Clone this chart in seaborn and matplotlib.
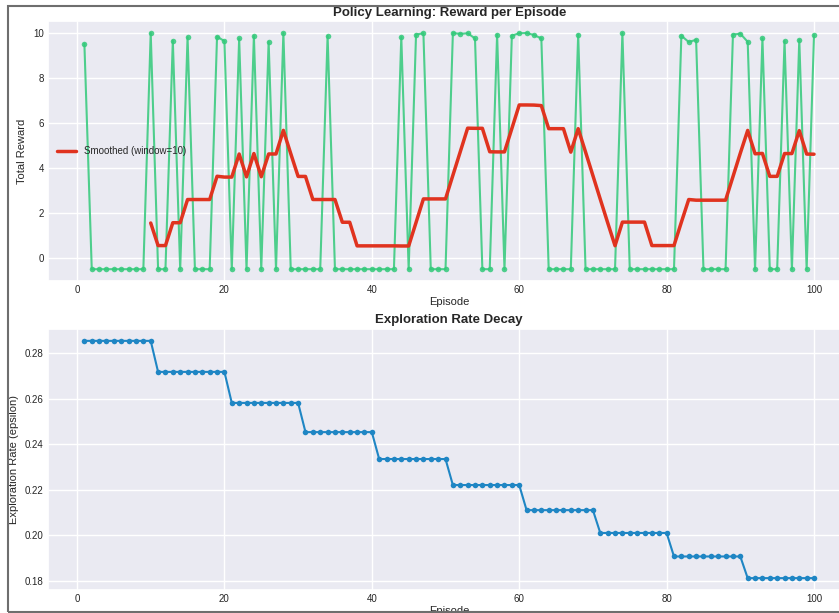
import numpy as np
import pandas as pd
import matplotlib
matplotlib.use("Agg")
import matplotlib.pyplot as plt
import seaborn as sns
from matplotlib.patches import Rectangle

episodes = list(range(1, 101))

rewards = [
    9.53, -0.5, -0.5, -0.5, -0.5, -0.5, -0.5, -0.5, -0.5, 10.0,
    -0.5, -0.5, 9.66, -0.5, 9.81, -0.5, -0.5, -0.5, 9.84, 9.64,
    -0.5, 9.76, -0.5, 9.87, -0.5, 9.61, -0.5, 10.0, -0.5, -0.5,
    -0.5, -0.5, -0.5, 9.87, -0.5, -0.5, -0.5, -0.5, -0.5, -0.5,
    -0.5, -0.5, -0.5, 9.82, -0.5, 9.93, 9.99, -0.5, -0.5, -0.5,
    10.0, 9.96, 9.99, 9.76, -0.5, -0.5, 9.93, -0.5, 9.88, 9.99,
    10.0, 9.91, 9.76, -0.5, -0.5, -0.5, -0.5, 9.93, -0.5, -0.5,
    -0.5, -0.5, -0.5, 10.0, -0.5, -0.5, -0.5, -0.5, -0.5, -0.5,
    -0.5, 9.88, 9.6, 9.7, -0.5, -0.5, -0.5, -0.5, 9.93, 9.97,
    9.61, -0.5, 9.76, -0.5, -0.5, 9.64, -0.5, 9.7, -0.5, 9.91,
]

epsilon = [
    0.2853, 0.2853, 0.2853, 0.2853, 0.2853, 0.2853, 0.2853, 0.2853, 0.2853, 0.2853,
    0.2717, 0.2717, 0.2717, 0.2717, 0.2717, 0.2717, 0.2717, 0.2717, 0.2717, 0.2717,
    0.2581, 0.2581, 0.2581, 0.2581, 0.2581, 0.2581, 0.2581, 0.2581, 0.2581, 0.2581,
    0.2453, 0.2453, 0.2453, 0.2453, 0.2453, 0.2453, 0.2453, 0.2453, 0.2453, 0.2453,
    0.2335, 0.2335, 0.2335, 0.2335, 0.2335, 0.2335, 0.2335, 0.2335, 0.2335, 0.2335,
    0.2221, 0.2221, 0.2221, 0.2221, 0.2221, 0.2221, 0.2221, 0.2221, 0.2221, 0.2221,
    0.2111, 0.2111, 0.2111, 0.2111, 0.2111, 0.2111, 0.2111, 0.2111, 0.2111, 0.2111,
    0.2011, 0.2011, 0.2011, 0.2011, 0.2011, 0.2011, 0.2011, 0.2011, 0.2011, 0.2011,
    0.1908, 0.1908, 0.1908, 0.1908, 0.1908, 0.1908, 0.1908, 0.1908, 0.1908, 0.1908,
    0.1813, 0.1813, 0.1813, 0.1813, 0.1813, 0.1813, 0.1813, 0.1813, 0.1813, 0.1813,
]

window = 10

df = pd.DataFrame({"Episode": episodes, "Reward": rewards, "Epsilon": epsilon})
df["Smoothed"] = df["Reward"].rolling(window).mean()

sns.set_theme(style="darkgrid")
plt.rcParams["font.family"] = ["Liberation Sans", "DejaVu Sans"]
plt.rcParams["axes.facecolor"] = "#EAEAF2"

W, H = 839, 613
fig = plt.figure(figsize=(W / 100, H / 100), dpi=100)
fig.patch.set_facecolor("white")

def box(x0, y0, x1, y1):
    return [x0 / W, 1 - y1 / H, (x1 - x0) / W, (y1 - y0) / H]

ax1 = fig.add_axes(box(47.9, 21.2, 850.5, 281.0))
ax2 = fig.add_axes(box(47.9, 329.0, 850.5, 590.0))

sns.lineplot(data=df, x="Episode", y="Reward", ax=ax1, color="#33c97a",
             alpha=0.85, linewidth=1.5, marker="o", markersize=4,
             markeredgewidth=0, label="_nolegend_")
sns.lineplot(data=df.dropna(), x="Episode", y="Smoothed", ax=ax1,
             color="#e0331f", linewidth=2.5, label=f"Smoothed (window={window})")

ax1.set_title("Policy Learning: Reward per Episode", fontsize=9.5,
              fontweight="bold", pad=4)
ax1.set_xlabel("Episode", fontsize=8, labelpad=1)
ax1.set_ylabel("Total Reward", fontsize=8, labelpad=4)
ax1.set_xticks([0, 20, 40, 60, 80, 100])
ax1.set_yticks([0, 2, 4, 6, 8, 10])
ax1.tick_params(labelsize=7, pad=3, length=0)
ax1.legend(loc="center left", frameon=False, fontsize=7)

sns.lineplot(data=df, x="Episode", y="Epsilon", ax=ax2, color="#1f86c4",
             linewidth=1.5, marker="o", markersize=4, markeredgewidth=0)
ax2.set_title("Exploration Rate Decay", fontsize=9.5, fontweight="bold", pad=4)
ax2.set_xlabel("Episode", fontsize=8, labelpad=1)
ax2.set_ylabel("Exploration Rate (epsilon)", fontsize=8, labelpad=4)
ax2.set_xticks([0, 20, 40, 60, 80, 100])
ax2.set_yticks([0.18, 0.20, 0.22, 0.24, 0.26, 0.28])
ax2.set_yticklabels(["0.18", "0.20", "0.22", "0.24", "0.26", "0.28"])
ax2.tick_params(labelsize=7, pad=3, length=0)

fig.patches.append(Rectangle((8 / W, 1.5 / H), 1.2, (H - 7.5) / H,
                             transform=fig.transFigure, fill=False,
                             edgecolor="#6e6e6e", linewidth=1.5, zorder=10))

fig.savefig("out.png", dpi=100)
